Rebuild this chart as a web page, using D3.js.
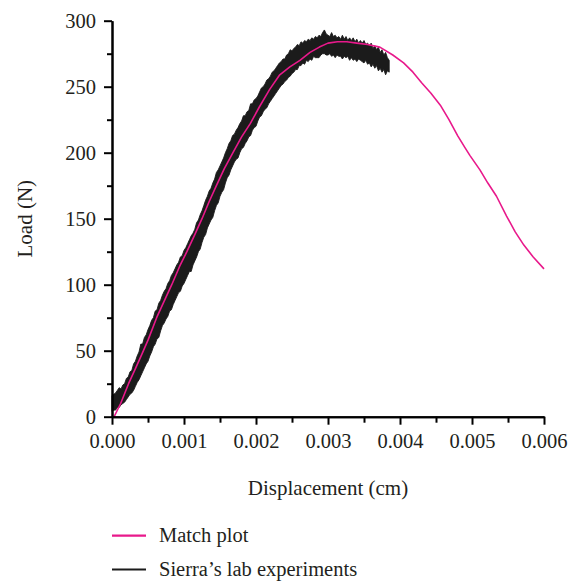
<!DOCTYPE html>
<html>
<head>
<meta charset="utf-8">
<script src="https://cdn.jsdelivr.net/npm/d3@7"></script>
<style>
  html, body { margin: 0; padding: 0; background: #fff; }
  svg { display: block; }
  text { font-family: "Liberation Serif", "Times New Roman", serif; fill: #231f20; }
</style>
</head>
<body>
<svg id="chart" width="585" height="582"></svg>
<script>
// Finite-element match curve: displacement (cm) vs load (N)
const matchDisp = [0.00003, 0.00012, 0.00023, 0.00033, 0.00042, 0.00050, 0.00062, 0.00072, 0.00083, 0.00094,
  0.00104, 0.00115, 0.00125, 0.00135, 0.00145, 0.00156, 0.00168, 0.00180, 0.00192, 0.00205,
  0.00219, 0.00233, 0.00247, 0.00261, 0.00275, 0.00288, 0.00300, 0.00313, 0.00326, 0.00340,
  0.00355, 0.00372, 0.00390, 0.00405, 0.00418, 0.00430, 0.00443, 0.00456, 0.00468, 0.00480,
  0.00490, 0.00497, 0.00511, 0.00522, 0.00534, 0.00548, 0.00560, 0.00572, 0.00585, 0.00600];
const matchLoad = [0, 10, 25, 37, 48, 58, 75, 87, 100, 114,
  125, 138, 150, 163, 175, 188, 200, 212, 222, 235,
  248, 259, 265, 270, 276, 280, 283, 284, 284, 283,
  282, 280, 274, 268, 261, 253, 245, 236, 225, 213,
  204, 198, 187, 177, 167, 152, 140, 130, 121, 112];

// Lab readings: for each displacement bin (every 0.000025 cm), the lowest and
// highest load recorded (N)
const expDisp = [
  0.000000, 0.000025, 0.000050, 0.000075, 0.000100, 0.000125, 0.000150, 0.000175, 0.000200, 0.000225,
  0.000250, 0.000275, 0.000300, 0.000325, 0.000350, 0.000375, 0.000400, 0.000425, 0.000450, 0.000475,
  0.000500, 0.000525, 0.000550, 0.000575, 0.000600, 0.000625, 0.000650, 0.000675, 0.000700, 0.000725,
  0.000750, 0.000775, 0.000800, 0.000825, 0.000850, 0.000875, 0.000900, 0.000925, 0.000950, 0.000975,
  0.001000, 0.001025, 0.001050, 0.001075, 0.001100, 0.001125, 0.001150, 0.001175, 0.001200, 0.001225,
  0.001250, 0.001275, 0.001300, 0.001325, 0.001350, 0.001375, 0.001400, 0.001425, 0.001450, 0.001475,
  0.001500, 0.001525, 0.001550, 0.001575, 0.001600, 0.001625, 0.001650, 0.001675, 0.001700, 0.001725,
  0.001750, 0.001775, 0.001800, 0.001825, 0.001850, 0.001875, 0.001900, 0.001925, 0.001950, 0.001975,
  0.002000, 0.002025, 0.002050, 0.002075, 0.002100, 0.002125, 0.002150, 0.002175, 0.002200, 0.002225,
  0.002250, 0.002275, 0.002300, 0.002325, 0.002350, 0.002375, 0.002400, 0.002425, 0.002450, 0.002475,
  0.002500, 0.002525, 0.002550, 0.002575, 0.002600, 0.002625, 0.002650, 0.002675, 0.002700, 0.002725,
  0.002750, 0.002775, 0.002800, 0.002825, 0.002850, 0.002875, 0.002900, 0.002925, 0.002950, 0.002975,
  0.003000, 0.003025, 0.003050, 0.003075, 0.003100, 0.003125, 0.003150, 0.003175, 0.003200, 0.003225,
  0.003250, 0.003275, 0.003300, 0.003325, 0.003350, 0.003375, 0.003400, 0.003425, 0.003450, 0.003475,
  0.003500, 0.003525, 0.003550, 0.003575, 0.003600, 0.003625, 0.003650, 0.003675, 0.003700, 0.003725,
  0.003750, 0.003775, 0.003800, 0.003825, 0.003850];
const expLoadLow = [
  4, 5, 5, 7, 7, 9, 10, 11, 13, 15,
  17, 18, 20, 23, 26, 28, 31, 34, 37, 40,
  42, 46, 49, 53, 55, 59, 60, 65, 69, 71,
  74, 76, 80, 81, 85, 88, 91, 94, 95, 99,
  101, 104, 107, 110, 110, 115, 118, 121, 125, 127,
  132, 136, 138, 143, 146, 149, 151, 156, 160, 162,
  167, 170, 172, 177, 181, 183, 187, 190, 193, 195,
  196, 200, 203, 204, 207, 209, 212, 213, 217, 219,
  220, 224, 227, 228, 231, 233, 234, 237, 239, 241,
  243, 245, 247, 249, 251, 252, 254, 255, 257, 258,
  260, 261, 263, 263, 266, 266, 268, 267, 270, 269,
  271, 270, 273, 272, 272, 272, 274, 275, 275, 274,
  274, 275, 273, 274, 272, 274, 273, 273, 271, 273,
  272, 273, 270, 272, 270, 271, 269, 271, 270, 269,
  268, 270, 267, 268, 265, 267, 264, 266, 262, 264,
  261, 263, 259, 262, 261];
const expLoadHigh = [
  16, 17, 18, 20, 22, 21, 24, 25, 29, 30,
  34, 35, 40, 42, 46, 49, 55, 55, 60, 62,
  66, 69, 73, 75, 80, 81, 86, 88, 92, 95,
  97, 101, 103, 107, 109, 112, 115, 117, 121, 122,
  126, 128, 131, 134, 137, 139, 142, 147, 149, 153,
  156, 160, 164, 167, 171, 173, 177, 180, 185, 187,
  190, 193, 196, 200, 203, 207, 209, 213, 214, 217,
  219, 222, 224, 228, 228, 231, 232, 237, 237, 240,
  241, 243, 246, 249, 250, 252, 255, 256, 258, 261,
  262, 264, 266, 268, 269, 271, 271, 274, 275, 278,
  277, 279, 280, 282, 281, 284, 283, 285, 284, 286,
  285, 287, 286, 288, 287, 289, 288, 291, 293, 290,
  289, 288, 291, 288, 289, 287, 288, 286, 289, 286,
  288, 285, 287, 285, 287, 284, 286, 283, 285, 283,
  285, 282, 283, 281, 283, 279, 281, 278, 280, 276,
  278, 274, 276, 272, 270];

const xTicks = [0, 0.001, 0.002, 0.003, 0.004, 0.005, 0.006];
const xMinorTicks = [0.0005, 0.0015, 0.0025, 0.0035, 0.0045, 0.0055];
const yTicks = [0, 50, 100, 150, 200, 250, 300];
const yMinorTicks = [25, 75, 125, 175, 225, 275];

const seriesNames = ["Match plot", "Sierra\u2019s lab experiments"];
const seriesColors = ["#e8198b", "#1b1b1b"];

const svg = d3.select("#chart");
const fontSize = "20.5px";
const titleSize = "21px";

const x = d3.scaleLinear().domain([0, 0.006]).range([112, 544]);
const y = d3.scaleLinear().domain([0, 300]).range([416.7, 20.7]);

// Measured band
const expData = expDisp.map((d, i) => ({ d, lo: expLoadLow[i], hi: expLoadHigh[i] }));
const band = d3.area()
  .x(p => x(p.d))
  .y0(p => y(p.lo))
  .y1(p => y(p.hi));
svg.append("path")
  .datum(expData)
  .attr("d", band)
  .attr("fill", seriesColors[1])
  .attr("stroke", seriesColors[1])
  .attr("stroke-width", 0.9)
  .attr("stroke-linejoin", "miter");

// Match curve
const matchData = matchDisp.map((d, i) => ({ d, v: matchLoad[i] }));
svg.append("path")
  .datum(matchData)
  .attr("d", d3.line().x(p => x(p.d)).y(p => y(p.v)))
  .attr("fill", "none")
  .attr("stroke", seriesColors[0])
  .attr("stroke-width", 1.6)
  .attr("stroke-linejoin", "round");

// Axes
function styleAxis(g) {
  g.selectAll("path.domain").attr("stroke", "#000").attr("stroke-width", 2);
  g.selectAll(".tick line").attr("stroke", "#000").attr("stroke-width", 2);
  g.selectAll("text").attr("font-size", fontSize).attr("fill", "#231f20")
    .style("font-family", '"Liberation Serif", "Times New Roman", serif');
}

const xAxisY = y(0);
svg.append("g")
  .attr("transform", `translate(0,${xAxisY})`)
  .call(d3.axisBottom(x).tickValues(xMinorTicks).tickSize(6).tickFormat("").tickSizeOuter(0))
  .call(styleAxis);
svg.append("g")
  .attr("transform", `translate(0,${xAxisY})`)
  .call(d3.axisBottom(x).tickValues(xTicks).tickSize(8).tickPadding(8.5)
    .tickFormat(d3.format(".3f")).tickSizeOuter(0))
  .call(styleAxis);

svg.append("g")
  .attr("transform", `translate(${x(0)},0)`)
  .call(d3.axisLeft(y).tickValues(yMinorTicks).tickSize(5).tickFormat("").tickSizeOuter(0))
  .call(styleAxis);
svg.append("g")
  .attr("transform", `translate(${x(0)},0)`)
  .call(d3.axisLeft(y).tickValues(yTicks).tickSize(8).tickPadding(8)
    .tickFormat(d3.format("d")).tickSizeOuter(0))
  .call(styleAxis);

// Axis titles
svg.append("text")
  .attr("x", (x(0) + x(0.006)) / 2)
  .attr("y", 495)
  .attr("text-anchor", "middle")
  .attr("font-size", titleSize)
  .text("Displacement (cm)");

svg.append("text")
  .attr("transform", `translate(32,${(y(0) + y(300)) / 2}) rotate(-90)`)
  .attr("text-anchor", "middle")
  .attr("font-size", titleSize)
  .text("Load (N)");

// Legend
const legendRows = [535.7, 569.5];
seriesNames.forEach((name, i) => {
  svg.append("line")
    .attr("x1", 112).attr("x2", 146)
    .attr("y1", legendRows[i]).attr("y2", legendRows[i])
    .attr("stroke", seriesColors[i])
    .attr("stroke-width", 2.2);
  svg.append("text")
    .attr("x", 159)
    .attr("y", legendRows[i] + 6)
    .attr("font-size", fontSize)
    .text(name);
});
</script>
</body>
</html>
